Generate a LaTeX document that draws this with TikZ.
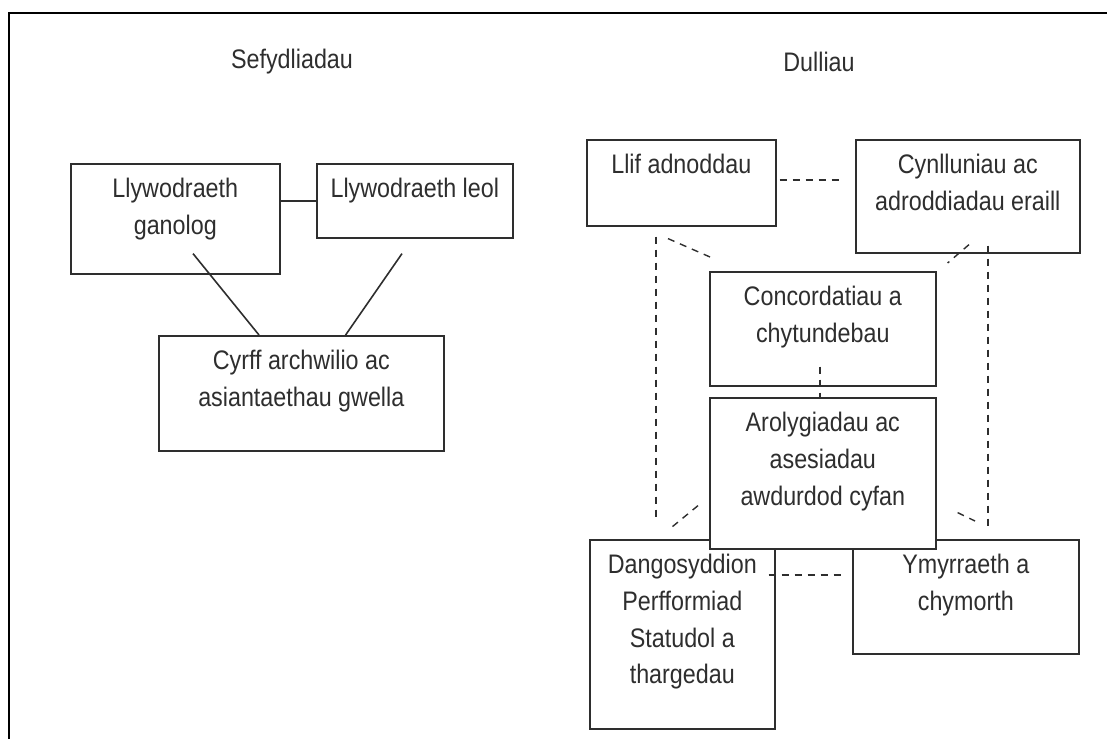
\documentclass[tikz,border=0pt]{standalone}
\usepackage{fontspec}
\setmainfont{Liberation Sans}[FakeStretch=0.87]
\usetikzlibrary{positioning}
\definecolor{ink}{HTML}{2E2E2E}
\begin{document}
\begin{tikzpicture}[x=0.5pt,y=-0.5pt,
    blk/.style={draw=ink,line width=0.8pt,fill=white,inner sep=0pt,anchor=north west},
    lbl/.style={inner sep=0pt,align=center,text=ink,font=\fontsize{13.4}{18.3}\selectfont},
    sld/.style={draw=ink,line width=0.8pt},
    dsh/.style={draw=ink,line width=0.7pt,dash pattern=on 3.5pt off 3pt}]
  \useasboundingbox (0,0) rectangle (1107,738);
  \draw[line width=1pt] (9,760) -- (9,13) -- (1120,13);
  \node[lbl] (sef) at (292,62) {Sefydliadau};
  \node[lbl] (dul) at (819,62) {Dulliau};

  \node[blk,minimum width=104.5pt,minimum height=55pt] (ganolog) at (70,163) {};
  \node[lbl,below=7.5pt of ganolog.north] (ganolog-t) {Llywodraeth\\ganolog};
  \node[blk,minimum width=98pt,minimum height=37pt] (leol) at (316,163) {};
  \node[lbl,below=7.5pt of leol.north] (leol-t) {Llywodraeth leol};
  \node[blk,minimum width=142.5pt,minimum height=57.5pt] (cyrff) at (158,335) {};
  \node[lbl,below=7.5pt of cyrff.north] (cyrff-t) {Cyrff archwilio ac\\asiantaethau gwella};
  \draw[sld] (leol.west) -- (leol.west -| ganolog.east);
  \draw[sld] ([shift={(123,-21)}]ganolog.south west) -- ([shift={(101,0)}]cyrff.north west);
  \draw[sld] ([shift={(86,15)}]leol.south west) -- ([shift={(-99,0)}]cyrff.north east);

  \node[blk,minimum width=94.5pt,minimum height=43pt] (llif) at (586,139) {};
  \node[lbl,below=7.5pt of llif.north] (llif-t) {Llif adnoddau};
  \node[blk,minimum width=112pt,minimum height=56.5pt] (cyn) at (855,139) {};
  \node[lbl,below=7.5pt of cyn.north] (cyn-t) {Cynlluniau ac\\adroddiadau eraill};
  \node[blk,minimum width=113pt,minimum height=57pt] (conc) at (709,271) {};
  \node[lbl,below=7.5pt of conc.north] (conc-t) {Concordatiau a\\chytundebau};
  \node[blk,minimum width=92.5pt,minimum height=94.5pt] (dang) at (589,539) {};
  \node[lbl,below=7.5pt of dang.north] (dang-t) {Dangosyddion\\Perfformiad\\Statudol a\\thargedau};
  \node[blk,minimum width=113pt,minimum height=57pt] (ymy) at (852,539) {};
  \node[lbl,below=7.5pt of ymy.north] (ymy-t) {Ymyrraeth a\\chymorth};
  \node[blk,minimum width=113pt,minimum height=75.5pt] (arol) at (709,397) {};
  \node[lbl,below=7.5pt of arol.north] (arol-t) {Arolygiadau ac\\asesiadau\\awdurdod cyfan};

  \draw[dsh] ([shift={(3,-3)}]llif.east) -- ([shift={(-13,-3)}]cyn.west |- llif.east);
  \draw[dsh] ([shift={(70,10)}]llif.south west) -- ([shift={(67,-17)}]dang.north west);
  \draw[dsh] ([shift={(82,12)}]llif.south west) -- ([shift={(1,-14)}]conc.north west);
  \draw[dsh] ([shift={(114,-9)}]cyn.south west) -- ([shift={(11,-8)}]conc.north east);
  \draw[dsh] ([shift={(133,-8)}]cyn.south west) -- ([shift={(136,-11)}]ymy.north west);
  \draw[dsh] ([shift={(-3,-20)}]conc.south) -- ([shift={(-3,0)}]arol.north);
  \draw[dsh] ([shift={(-11,-44)}]arol.south west) -- ([shift={(83,-12)}]dang.north west);
  \draw[dsh] ([shift={(21,-37)}]arol.south east) -- ([shift={(123,-18)}]ymy.north west);
  \draw[dsh] ([shift={(-7,36)}]dang.north east) -- ([shift={(-9,36)}]ymy.north west);
\end{tikzpicture}
\end{document}
